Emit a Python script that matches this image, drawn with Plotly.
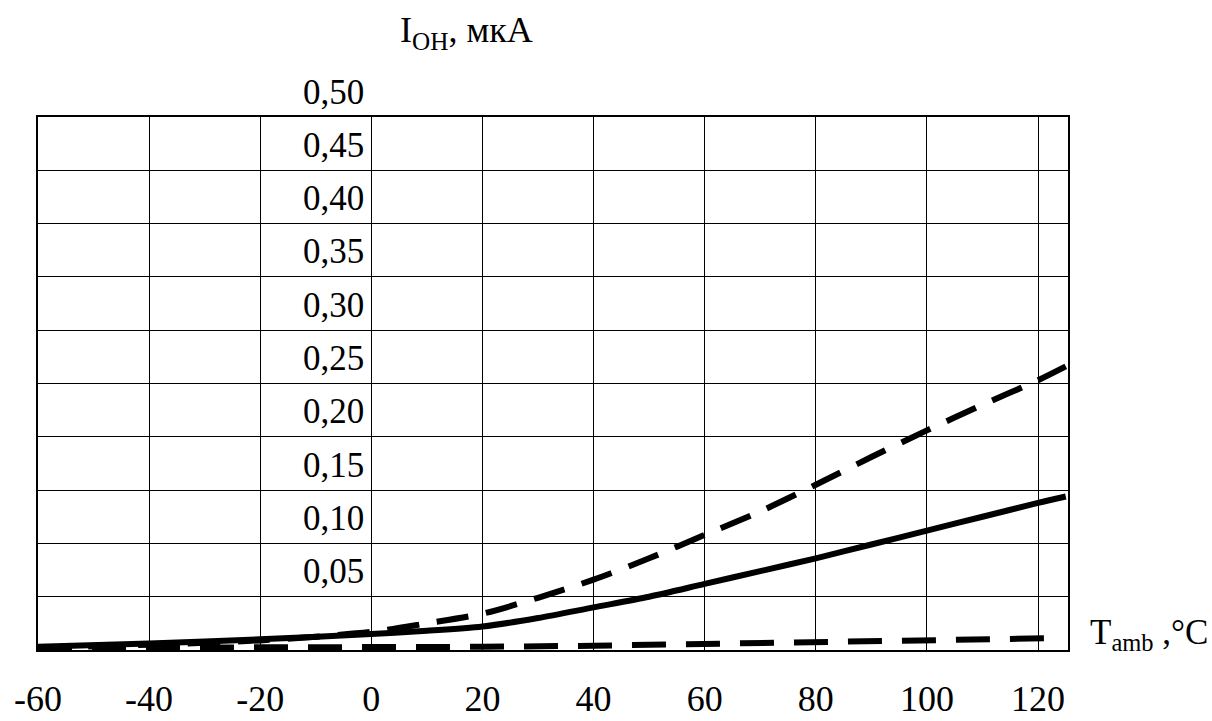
import plotly.graph_objects as go

# Data
temp = [-60, -40, -20, 0, 10, 20, 30, 40, 50, 60, 70, 80, 90, 100, 110, 120, 125]
i_typ = [0.003, 0.006, 0.010, 0.015, 0.018, 0.022, 0.030, 0.040, 0.050, 0.062,
         0.074, 0.086, 0.099, 0.112, 0.125, 0.138, 0.144]
i_max = [0.002, 0.005, 0.009, 0.017, 0.025, 0.034, 0.049, 0.066, 0.086, 0.108,
         0.130, 0.155, 0.181, 0.206, 0.230, 0.253, 0.266]
temp_min = [-60, -40, -20, 0, 20, 40, 60, 80, 100, 122]
i_min = [0.002, 0.002, 0.002, 0.003, 0.003, 0.004, 0.006, 0.007, 0.009, 0.011]

x_ticks = [-60, -40, -20, 0, 20, 40, 60, 80, 100, 120]
x_ticktext = ["-60", "-40", "-20", "0", "20", "40", "60", "80", "100", "120"]
y_ticks = [0.05, 0.10, 0.15, 0.20, 0.25, 0.30, 0.35, 0.40, 0.45, 0.50]
y_ticktext = ["0,05", "0,10", "0,15", "0,20", "0,25", "0,30", "0,35", "0,40", "0,45", "0,50"]
grid_y = [0, 0.05, 0.10, 0.15, 0.20, 0.25, 0.30, 0.35, 0.40, 0.45, 0.50]

FONT = "Liberation Serif"

fig = go.Figure()
fig.add_trace(go.Scatter(x=temp, y=i_typ, mode="lines",
                         line=dict(color="black", width=6, shape="spline", smoothing=0.8),
                         showlegend=False))
fig.add_trace(go.Scatter(x=temp, y=i_max, mode="lines",
                         line=dict(color="black", width=6, dash="32px,18px",
                                   shape="spline", smoothing=0.8),
                         showlegend=False))
fig.add_trace(go.Scatter(x=temp_min, y=i_min, mode="lines",
                         line=dict(color="black", width=6, dash="34px,20px"), showlegend=False))

for v, t in zip(y_ticks, y_ticktext):
    fig.add_annotation(x=0, y=v, xref="x", yref="y", text=t, showarrow=False,
                       xanchor="right", yanchor="middle", xshift=-5, yshift=25,
                       font=dict(family=FONT, size=35, color="black"))

fig.add_annotation(x=0, y=0.5, xref="x", yref="y", text="I<sub>OH</sub>, мкА",
                   showarrow=False, xanchor="left", yanchor="middle",
                   xshift=27, yshift=85,
                   font=dict(family=FONT, size=36, color="black"))
fig.add_annotation(x=1, y=0.02, xref="paper", yref="y", text="T<sub>amb</sub> ,°C",
                   showarrow=False, xanchor="left", yanchor="middle",
                   xshift=20, yshift=-6,
                   font=dict(family=FONT, size=35, color="black"))

fig.update_layout(
    width=1212, height=721,
    margin=dict(l=38, r=144, t=117, b=71),
    paper_bgcolor="white", plot_bgcolor="white",
    font=dict(family=FONT, color="black"),
    xaxis=dict(range=[-60, 125.4], tickvals=x_ticks, ticktext=x_ticktext,
               showgrid=True, gridcolor="black", gridwidth=1.2,
               showline=True, linecolor="black", linewidth=1.5, mirror=True,
               zeroline=False, ticks="", ticklabelstandoff=16, automargin=False,
               tickfont=dict(family=FONT, size=36, color="black")),
    yaxis=dict(range=[0, 0.5], tickvals=grid_y, showticklabels=False,
               showgrid=True, gridcolor="black", gridwidth=1.2,
               showline=True, linecolor="black", linewidth=1.5, mirror=True,
               zeroline=False, ticks="", automargin=False),
)

fig.write_html("out.html")
